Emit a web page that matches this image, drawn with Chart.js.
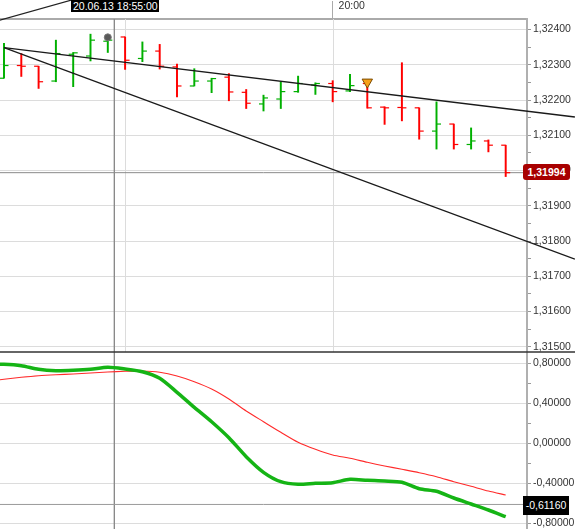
<!DOCTYPE html>
<html><head><meta charset="utf-8">
<script src="https://cdn.jsdelivr.net/npm/chart.js@4.4.0/dist/chart.umd.min.js"></script>
<style>
html,body{margin:0;padding:0;background:#fff;}
#wrap{position:relative;width:575px;height:529px;overflow:hidden;}
canvas{display:block;}
.lbl{position:absolute;font-family:"Liberation Sans",Arial,sans-serif;color:#fff;text-align:center;white-space:nowrap;}
#timeLbl{top:0;width:88px;height:12px;line-height:12px;font-size:10.5px;background:#000;}
#priceLbl{width:47px;height:16px;line-height:16px;font-size:10.5px;font-weight:bold;background:#a80000;border-radius:3px;}
#oscLbl{width:46px;height:19px;line-height:19px;font-size:10.5px;background:#000;}
</style></head><body>
<div id="wrap"><canvas id="c" width="575" height="529"></canvas>
<div id="timeLbl" class="lbl"></div>
<div id="priceLbl" class="lbl"></div>
<div id="oscLbl" class="lbl"></div>
</div>
<script>
// ---- data ----
const times = ['18:25','18:30','18:35','18:40','18:45','18:50','18:55','19:00','19:05','19:10','19:15','19:20','19:25','19:30','19:35','19:40','19:45','19:50','19:55','20:00','20:05','20:10','20:15','20:20','20:25','20:30','20:35','20:40','20:45','20:50'];
const open  = [1.32262,1.32298,1.32296,1.32254,1.32330,1.32325,1.32367,1.32379,1.32318,1.32339,1.32294,1.32240,1.32254,1.32265,1.32222,1.32189,1.32203,1.32224,1.32243,1.32247,1.32226,1.32247,1.32180,1.32179,1.32178,1.32112,1.32132,1.32074,1.32084,1.32072];
const high  = [1.32361,1.32332,1.32296,1.32370,1.32335,1.32387,1.32370,1.32379,1.32365,1.32358,1.32302,1.32289,1.32262,1.32275,1.32230,1.32214,1.32252,1.32268,1.32249,1.32255,1.32273,1.32247,1.32181,1.32306,1.32178,1.32195,1.32132,1.32121,1.32087,1.32072];
const low   = [1.32262,1.32267,1.32233,1.32252,1.32238,1.32311,1.32335,1.32287,1.32309,1.32288,1.32209,1.32240,1.32221,1.32198,1.32176,1.32169,1.32176,1.32222,1.32216,1.32195,1.32224,1.32177,1.32131,1.32141,1.32089,1.32061,1.32061,1.32061,1.32053,1.31983];
const close = [1.32298,1.32296,1.32252,1.32332,1.32334,1.32370,1.32370,1.32313,1.32339,1.32296,1.32240,1.32254,1.32261,1.32223,1.32191,1.32206,1.32224,1.32247,1.32247,1.32224,1.32241,1.32178,1.32178,1.32178,1.32112,1.32132,1.32074,1.32084,1.32072,1.31994];
// oscillator, first value belongs to the bar just before the visible window
const oscStart = -1;
const oscMain   = [0.79,0.79,0.776,0.74,0.726,0.73,0.74,0.76,0.743,0.716,0.65,0.51,0.36,0.216,0.056,-0.134,-0.29,-0.384,-0.41,-0.40,-0.394,-0.36,-0.37,-0.377,-0.39,-0.454,-0.48,-0.547,-0.607,-0.667,-0.734];
const oscSignal = [0.62,0.64,0.66,0.676,0.686,0.693,0.703,0.713,0.72,0.723,0.71,0.673,0.616,0.543,0.443,0.323,0.216,0.11,0.01,-0.06,-0.117,-0.15,-0.19,-0.227,-0.26,-0.294,-0.334,-0.384,-0.43,-0.477,-0.517];
const trendUpper  = [[0,1.32349],[33,1.32152]];
const trendLower  = [[0,1.32349],[33,1.31749]];
const trendHeader = [[-0.3,1.32426],[3.93,1.32484]];
const dotMarker   = [6, 1.32378];
const arrowMarker = [21, 1.32251];
const cursorIndex = 6.38;
const cursorLabel = '20.06.13 18:55:00';
const oscCursor = -0.6116;
const lastPrice = close[close.length-1];
// axis ranges
const xMin = -0.2312, xMax = 30.2312;
const priceMin = 1.314853, priceMax = 1.3243, priceStep = 0.0005, priceLabelStep = 0.001;
const oscMin = -0.857, oscMax = 0.913, oscStep = 0.2, oscLabelStep = 0.4;

// ---- helpers ----
const GREEN = '#00b000', RED = '#ff0000';
const FONT = {family:'"Liberation Sans", Arial, sans-serif', size:10.5};
const fmt = v => (Math.round(v*1e5)/1e5 + 0).toFixed(5).replace('.', ',');
const onStep = (v, s) => Math.abs(v/s - Math.round(v/s)) < 1e-6;
const barColors = close.map((c,i) => c >= open[i] ? GREEN : RED);
const hourIdx = times.map((t,i)=>t.endsWith(':00')?i:null).filter(v=>v!==null);
const hiddenHour = hourIdx.find(i => Math.abs(i-cursorIndex) < 3);
const pts = arr => arr.map(p=>({x:p[0], y:p[1]}));
const noPad = s => { s.paddingLeft = 0; s.paddingRight = 0; s.paddingTop = 0; s.paddingBottom = 0; };

const panelPlugin = {
  id:'panels',
  beforeDatasetsDraw(chart){
    const {ctx} = chart, xs = chart.scales.x, ys = chart.scales.y;
    ctx.save(); ctx.strokeStyle = '#dcdcdc'; ctx.lineWidth = 1;
    xs.ticks.forEach(t => {
      const px = Math.round(xs.getPixelForValue(t.value)) + 0.5;
      ctx.beginPath(); ctx.moveTo(px, ys.top); ctx.lineTo(px, ys.bottom); ctx.stroke();
    });
    ctx.restore();
  },
  afterDatasetsDraw(chart){
    const {ctx} = chart, ys = chart.scales.y;
    ctx.save(); ctx.strokeStyle = '#333'; ctx.lineWidth = 1.5;
    ctx.beginPath(); ctx.moveTo(0, ys.bottom); ctx.lineTo(chart.width, ys.bottom); ctx.stroke();
    ctx.restore();
  },
  afterRender(chart){
    const xs = chart.scales.x, ys = chart.scales.y, y2 = chart.scales.y2;
    const t = document.getElementById('timeLbl');
    t.textContent = cursorLabel;
    t.style.left = (xs.getPixelForValue(cursorIndex) - 43) + 'px';
    const p = document.getElementById('priceLbl');
    p.textContent = fmt(lastPrice);
    p.style.left = (ys.left - 4) + 'px';
    p.style.top = (ys.getPixelForValue(lastPrice) - 9) + 'px';
    const o = document.getElementById('oscLbl');
    o.textContent = fmt(oscCursor);
    o.style.left = (y2.left - 4) + 'px';
    o.style.top = (y2.getPixelForValue(oscCursor) - 8) + 'px';
  }
};

const lineDs = (data, color, width, yAxisID, extra) => Object.assign({
  type:'line', data, borderColor:color, borderWidth:width, pointRadius:0,
  yAxisID, fill:false, tension:0
}, extra || {});

const datasets = [
  lineDs(pts(trendHeader), '#222', 1.3, 'y', {clip:false}),
  {type:'line', data:[{x:dotMarker[0], y:dotMarker[1]}], showLine:false, yAxisID:'y',
   pointRadius:3.5, pointBackgroundColor:'#5a5a5a', pointBorderColor:'#777', pointBorderWidth:1},
  {type:'line', data:[{x:arrowMarker[0], y:arrowMarker[1]}], showLine:false, yAxisID:'y',
   pointStyle:'triangle', rotation:180, pointRadius:6, pointBackgroundColor:'#f7a11a', pointBorderColor:'#7a4a00', pointBorderWidth:1},
  lineDs(pts(trendUpper), '#1a1a1a', 1.3, 'y', {clip:{left:0, top:0, right:48, bottom:0}}),
  lineDs(pts(trendLower), '#1a1a1a', 1.3, 'y', {clip:{left:0, top:0, right:48, bottom:0}}),
  {type:'line', data:close.map((v,i)=>({x:i, y:v})), showLine:false, yAxisID:'y',
   pointStyle:'dash', rotation:0, pointRadius:4.5, pointBorderWidth:1.2, pointBorderColor:barColors, pointBackgroundColor:barColors},
  {type:'line', data:open.map((v,i)=>({x:i, y:v})), showLine:false, yAxisID:'y',
   pointStyle:'dash', rotation:180, pointRadius:4.5, pointBorderWidth:1.2, pointBorderColor:barColors, pointBackgroundColor:barColors},
  {type:'bar', data:low.map((v,i)=>({x:i, y:[v, high[i]]})), yAxisID:'y',
   backgroundColor:barColors, borderWidth:0, barThickness:1.3, grouped:false},
  lineDs(oscMain.map((v,i)=>({x:i+oscStart, y:v})), '#15b415', 3.5, 'y2', {tension:0.25}),
  lineDs(oscSignal.map((v,i)=>({x:i+oscStart, y:v})), '#ff2a2a', 1.1, 'y2', {tension:0.25}),
  lineDs([{x:xMin,y:lastPrice},{x:xMax,y:lastPrice}], '#8a8a8a', 1, 'y'),
  lineDs([{x:xMin,y:oscCursor},{x:xMax,y:oscCursor}], '#9a9a9a', 1, 'y2'),
  lineDs([{x:cursorIndex,y:priceMax},{x:cursorIndex,y:priceMin}], '#8a8a8a', 1, 'y'),
  lineDs([{x:cursorIndex,y:oscMax},{x:cursorIndex,y:oscMin}], '#8a8a8a', 1, 'y2')
];

const yAxis = (min, max, step, labelStep, weight) => ({
  type:'linear', position:'right', stack:'panels', stackWeight:weight,
  min, max, offset:false,
  afterFit: s => { s.width = 48; noPad(s); },
  grid:{ color: c => (c.tick && onStep(c.tick.value, labelStep)) ? '#dcdcdc' : 'rgba(0,0,0,0)',
         tickColor:'#999', tickLength:4, lineWidth:1 },
  border:{ color:'#b0b0b0', width:2 },
  ticks:{ stepSize:step, autoSkip:false, includeBounds:false, padding:2, color:'#333', font:FONT,
          callback: v => onStep(v, labelStep) ? fmt(v) : '' }
});

new Chart(document.getElementById('c'), {
  type:'bar',
  data:{ datasets },
  plugins:[panelPlugin],
  options:{
    responsive:false, animation:false, events:[],
    layout:{ padding:0, autoPadding:false },
    plugins:{ legend:{display:false}, tooltip:{enabled:false} },
    scales:{
      x:{ type:'linear', position:'top', min:xMin, max:xMax, offset:false,
          afterBuildTicks: s => { s.ticks = hourIdx.map(v=>({value:v})); },
          afterFit: s => { s.height = 19; noPad(s); },
          grid:{ drawOnChartArea:false, offset:false, tickLength:18,
                 tickColor: c => (c.tick && c.tick.value === hiddenHour) ? 'rgba(0,0,0,0)' : '#aaa' },
          border:{ color:'#aaa', width:2 },
          ticks:{ autoSkip:false, maxRotation:0, padding:-11, labelOffset:19, color:'#333', font:FONT,
                  callback: v => times[v] }
      },
      y: yAxis(priceMin, priceMax, priceStep, priceLabelStep, 333),
      y2: yAxis(oscMin, oscMax, oscStep, oscLabelStep, 177)
    }
  }
});
</script>
</body></html>
